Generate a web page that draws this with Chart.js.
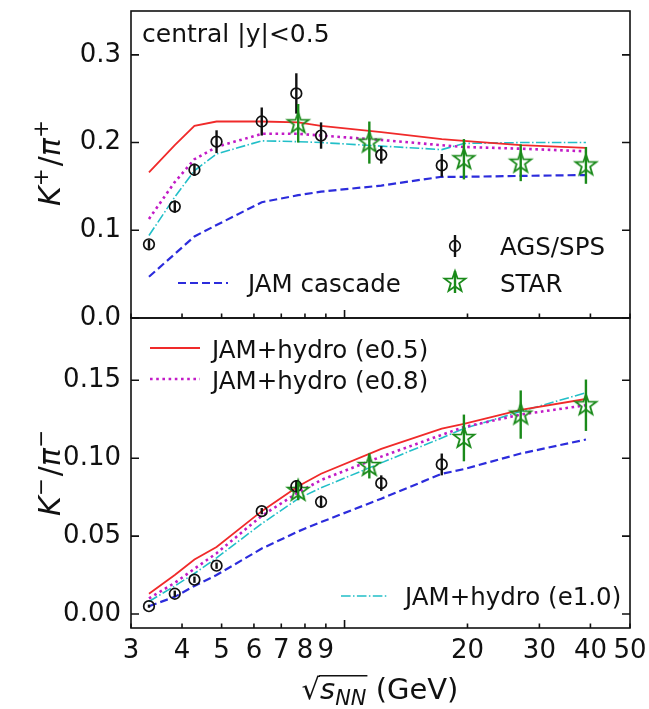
<!DOCTYPE html>
<html>
<head>
<meta charset="utf-8">
<script src="https://cdn.jsdelivr.net/npm/chart.js@4.4.1/dist/chart.umd.min.js"></script>
<style>
  html, body { margin: 0; padding: 0; background: #fff; }
  #wrap { position: relative; width: 649px; height: 709px; }
  #wrap canvas { position: absolute; left: 0; top: 0; }
</style>
</head>
<body>
<div id="wrap">
  <canvas id="kplus" width="649" height="709"></canvas>
  <canvas id="kminus" width="649" height="709"></canvas>
</div>
<script>
// sqrt(s_NN) in GeV
const energyModel = [3.32, 3.84, 4.29, 4.86, 6.27, 7.7, 8.76, 12.3, 17.3, 19.6, 27, 39];
const energyAGS = [3.32, 3.84, 4.29, 4.86, 6.27, 7.62, 8.76, 12.3, 17.3];
const energySTAR = [7.7, 11.5, 19.6, 27, 39];

// K+/pi+
const kPlusE05 = [0.166, 0.197, 0.219, 0.224, 0.224, 0.223, 0.219, 0.212, 0.204, 0.202, 0.197, 0.194];
const kPlusE08 = [0.113, 0.155, 0.181, 0.195, 0.210, 0.210, 0.208, 0.203, 0.197, 0.195, 0.193, 0.190];
const kPlusE10 = [0.094, 0.138, 0.168, 0.187, 0.202, 0.201, 0.200, 0.196, 0.192, 0.199, 0.200, 0.200];
const kPlusCascade = [0.047, 0.073, 0.093, 0.106, 0.132, 0.140, 0.144, 0.151, 0.161, 0.161, 0.162, 0.163];
const kPlusAGS = [0.084, 0.127, 0.169, 0.201, 0.224, 0.256, 0.208, 0.186, 0.174];
const kPlusAGSErr = [0.005, 0.007, 0.007, 0.013, 0.016, 0.023, 0.015, 0.010, 0.013];
const kPlusSTAR = [0.222, 0.200, 0.181, 0.177, 0.174];
const kPlusSTARErr = [0.022, 0.024, 0.023, 0.021, 0.021];

// K-/pi-
const kMinusE05 = [0.013, 0.025, 0.035, 0.043, 0.066, 0.082, 0.090, 0.106, 0.119, 0.122, 0.131, 0.138];
const kMinusE08 = [0.010, 0.020, 0.029, 0.039, 0.063, 0.078, 0.086, 0.101, 0.115, 0.120, 0.128, 0.134];
const kMinusE10 = [0.008, 0.018, 0.026, 0.036, 0.058, 0.074, 0.081, 0.097, 0.113, 0.119, 0.130, 0.142];
const kMinusCascade = [0.005, 0.011, 0.018, 0.025, 0.042, 0.053, 0.059, 0.074, 0.090, 0.093, 0.103, 0.112];
const kMinusAGS = [0.005, 0.013, 0.022, 0.031, 0.066, 0.082, 0.072, 0.084, 0.096];
const kMinusAGSErr = [0.001, 0.002, 0.002, 0.002, 0.002, 0.004, 0.004, 0.005, 0.007];
const kMinusSTAR = [0.079, 0.095, 0.113, 0.128, 0.134];
const kMinusSTARErr = [0.006, 0.008, 0.015, 0.0155, 0.0165];

const xTickValues = [3, 4, 5, 6, 7, 8, 9, 10, 20, 30, 40, 50];
const kPlusTicks = [0, 0.1, 0.2, 0.3];
const kMinusTicks = [0, 0.05, 0.10, 0.15];

const FONT = "'DejaVu Sans', sans-serif";
const INK = '#111111';
const RED = '#f02a2a', MAGENTA = '#c21bc6', CYAN = '#22bfc8', BLUE = '#2c2cdc', GREEN = '#1a8a1a';

Chart.defaults.font.family = FONT;

function pts(xs, ys) {
  return xs.map((x, i) => ({ x, y: ys[i] }));
}

// open five-pointed star used as the STAR marker
function starImage(r, color, lw) {
  const size = Math.ceil(2 * r + lw * 2 + 2);
  const c = document.createElement('canvas');
  c.width = c.height = size;
  const g = c.getContext('2d');
  g.translate(size / 2, size / 2);
  g.beginPath();
  for (let i = 0; i < 10; i++) {
    const a = -Math.PI / 2 + i * Math.PI / 5;
    const rr = i % 2 ? r * 0.4 : r;
    g.lineTo(rr * Math.cos(a), rr * Math.sin(a));
  }
  g.closePath();
  g.strokeStyle = color;
  g.lineWidth = lw;
  g.stroke();
  return c;
}
const starImg = starImage(11, GREEN, 1.8);

function lineSet(label, ys, color, width, dash) {
  return {
    label, data: pts(energyModel, ys), showLine: true, pointRadius: 0,
    borderColor: color, borderWidth: width, borderDash: dash || [], fill: false, tension: 0,
  };
}

function dataSets(ags, agsErr, star, starErr, cascade, e05, e08, e10) {
  return [
    {
      label: 'AGS/SPS', data: pts(energyAGS, ags), errors: agsErr, errorColor: INK,
      pointStyle: 'circle', pointRadius: 5.3, pointBorderWidth: 1.7,
      pointBorderColor: INK, pointBackgroundColor: 'rgba(0,0,0,0)',
    },
    {
      label: 'STAR', data: pts(energySTAR, star), errors: starErr, errorColor: GREEN,
      pointStyle: starImg, pointRadius: 10,
    },
    lineSet('JAM cascade', cascade, BLUE, 2.2, [8, 4]),
    lineSet('JAM+hydro (e0.5)', e05, RED, 1.8),
    lineSet('JAM+hydro (e0.8)', e08, MAGENTA, 2.6, [2.6, 3.6]),
    lineSet('JAM+hydro (e1.0)', e10, CYAN, 1.6, [9.6, 2.4, 1.5, 2.4]),
  ];
}

// vertical error bars, drawn through the chart scales
const errorBars = {
  id: 'errorBars',
  afterDatasetsDraw(chart) {
    const { ctx, scales: { x, y } } = chart;
    chart.data.datasets.forEach((ds) => {
      if (!ds.errors) return;
      ctx.save();
      ctx.strokeStyle = ds.errorColor;
      ctx.lineWidth = 2.4;
      ds.data.forEach((p, i) => {
        const px = x.getPixelForValue(p.x);
        ctx.beginPath();
        ctx.moveTo(px, y.getPixelForValue(p.y - ds.errors[i]));
        ctx.lineTo(px, y.getPixelForValue(p.y + ds.errors[i]));
        ctx.stroke();
      });
      ctx.restore();
    });
  },
};

// box around the panel with inward tick marks
const frame = {
  id: 'frame',
  afterDraw(chart) {
    const { ctx, chartArea: { left, right, top, bottom }, scales: { x, y } } = chart;
    ctx.save();
    ctx.strokeStyle = INK;
    ctx.lineWidth = 1.6;
    ctx.beginPath();
    y.ticks.forEach((t) => {
      const py = y.getPixelForValue(t.value);
      ctx.moveTo(left, py); ctx.lineTo(left + 8, py);
      ctx.moveTo(right, py); ctx.lineTo(right - 8, py);
    });
    x.ticks.forEach((t) => {
      const px = x.getPixelForValue(t.value);
      const len = t.value === 10 ? 8 : 4.5;
      ctx.moveTo(px, bottom); ctx.lineTo(px, bottom - len);
    });
    ctx.stroke();
    ctx.strokeRect(left, top, right - left, bottom - top);
    ctx.restore();
  },
};

function fontFor(p, size) {
  const s = (p.sup || p.sub) ? size * 0.72 : size;
  return `${p.it ? 'italic ' : ''}${s}px ${FONT}`;
}
function richWidth(ctx, parts, size) {
  let w = 0;
  parts.forEach((p) => { ctx.font = fontFor(p, size); w += ctx.measureText(p.t).width; });
  return w;
}
function drawRich(ctx, parts, x, y, size) {
  let cx = x;
  parts.forEach((p) => {
    ctx.font = fontFor(p, size);
    const dy = p.sup ? -size * 0.4 : p.sub ? size * 0.22 : 0;
    ctx.fillText(p.t, cx, y + dy);
    cx += ctx.measureText(p.t).width + (p.pad || 0);
  });
  return cx;
}

function yTitle(ctx, parts, cx, cy) {
  const size = 30;
  ctx.save();
  ctx.fillStyle = INK;
  ctx.textBaseline = 'alphabetic';
  ctx.translate(cx, cy);
  ctx.rotate(-Math.PI / 2);
  const w = richWidth(ctx, parts, size) + parts.reduce((a, p) => a + (p.pad || 0), 0);
  drawRich(ctx, parts, -w / 2, 0, size);
  ctx.restore();
}

function text(ctx, str, x, cy, size) {
  ctx.save();
  ctx.fillStyle = INK;
  ctx.font = `${size}px ${FONT}`;
  ctx.textAlign = 'left';
  ctx.textBaseline = 'alphabetic';
  ctx.fillText(str, x, cy + size * 0.36);
  ctx.restore();
}

function legendLine(ctx, x1, x2, y, color, width, dash) {
  ctx.save();
  ctx.strokeStyle = color;
  ctx.lineWidth = width;
  ctx.setLineDash(dash || []);
  ctx.beginPath();
  ctx.moveTo(x1, y);
  ctx.lineTo(x2, y);
  ctx.stroke();
  ctx.restore();
}

function legendBar(ctx, x, y, color) {
  ctx.save();
  ctx.strokeStyle = color;
  ctx.lineWidth = 2.4;
  ctx.beginPath();
  ctx.moveTo(x, y - 11);
  ctx.lineTo(x, y + 11);
  ctx.stroke();
  ctx.restore();
}

function xTitle(ctx, cx, baseline) {
  const size = 29;
  const inner = [{ t: 's', it: true }, { t: 'NN', it: true, sub: true }];
  ctx.save();
  ctx.fillStyle = INK;
  ctx.strokeStyle = INK;
  ctx.textBaseline = 'alphabetic';
  ctx.font = `${size}px ${FONT}`;
  const rootW = ctx.measureText('\u221A').width;
  const rootAsc = ctx.measureText('\u221A').actualBoundingBoxAscent;
  const innerW = richWidth(ctx, inner, size);
  ctx.font = `${size}px ${FONT}`;
  const tailW = ctx.measureText(' (GeV)').width;
  let x = cx - (rootW + innerW + tailW) / 2;
  ctx.fillText('\u221A', x, baseline);
  x += rootW;
  ctx.lineWidth = 1.4;
  ctx.beginPath();
  ctx.moveTo(x - 1, baseline - rootAsc + 0.7);
  ctx.lineTo(x + innerW + 1, baseline - rootAsc + 0.7);
  ctx.stroke();
  x = drawRich(ctx, inner, x, baseline, size);
  ctx.font = `${size}px ${FONT}`;
  ctx.fillText(' (GeV)', x, baseline);
  ctx.restore();
}

function xScale(showLabels, height) {
  return {
    type: 'logarithmic', min: 3, max: 50,
    grid: { display: false, drawTicks: false },
    border: { display: false },
    ticks: {
      display: showLabels, autoSkip: false, maxRotation: 0, minRotation: 0,
      color: INK, padding: 8, font: { size: 26 },
      callback: (v) => (v === 10 ? '' : String(v)),
    },
    afterBuildTicks: (s) => { s.ticks = xTickValues.map((v) => ({ value: v })); },
    afterFit: (s) => { s.height = height; s.paddingLeft = 0; s.paddingRight = 0; },
  };
}

function yScale(min, max, tickVals, decimals) {
  return {
    min, max,
    grid: { display: false, drawTicks: false },
    border: { display: false },
    ticks: {
      color: INK, padding: 10, font: { size: 26 },
      callback: (v) => Number(v).toFixed(decimals),
    },
    afterBuildTicks: (s) => { s.ticks = tickVals.map((v) => ({ value: v })); },
    afterFit: (s) => { s.width = 131; s.paddingTop = 0; s.paddingBottom = 0; },
  };
}

const common = {
  responsive: false,
  animation: false,
  events: [],
};

new Chart(document.getElementById('kplus'), {
  type: 'scatter',
  data: { datasets: dataSets(kPlusAGS, kPlusAGSErr, kPlusSTAR, kPlusSTARErr, kPlusCascade, kPlusE05, kPlusE08, kPlusE10) },
  options: {
    ...common,
    layout: { padding: { left: 0, right: 19, top: 7, bottom: 391 } },
    plugins: { legend: { display: false }, tooltip: { enabled: false } },
    scales: { x: xScale(false, 0), y: yScale(0, 0.35, kPlusTicks, 1) },
  },
  plugins: [errorBars, frame, {
    id: 'kplusNotes',
    afterDraw(chart) {
      const ctx = chart.ctx;
      ctx.save();
      ctx.fillStyle = INK;
      ctx.font = `25px ${FONT}`;
      ctx.fillText('central |y|<0.5', 142, 42);
      ctx.restore();
      legendLine(ctx, 178, 228, 283, BLUE, 2.2, [8, 4]);
      text(ctx, 'JAM cascade', 248, 283, 24.5);
      legendBar(ctx, 455, 246, INK);
      ctx.save();
      ctx.strokeStyle = INK;
      ctx.lineWidth = 1.7;
      ctx.beginPath();
      ctx.arc(455, 246, 5.3, 0, Math.PI * 2);
      ctx.stroke();
      ctx.restore();
      text(ctx, 'AGS/SPS', 500, 246, 24.5);
      legendBar(ctx, 455, 282, GREEN);
      ctx.drawImage(starImg, 455 - starImg.width / 2, 282 - starImg.height / 2);
      text(ctx, 'STAR', 500, 283, 24.5);
      yTitle(ctx, [{ t: 'K', it: true }, { t: '+', sup: true, pad: 2 }, { t: '/' }, { t: '\u03C0', it: true }, { t: '+', sup: true }], 60, 163);
    },
  }],
});

new Chart(document.getElementById('kminus'), {
  type: 'scatter',
  data: { datasets: dataSets(kMinusAGS, kMinusAGSErr, kMinusSTAR, kMinusSTARErr, kMinusCascade, kMinusE05, kMinusE08, kMinusE10) },
  options: {
    ...common,
    layout: { padding: { left: 0, right: 19, top: 318, bottom: 0 } },
    plugins: { legend: { display: false }, tooltip: { enabled: false } },
    scales: { x: xScale(true, 81), y: yScale(-0.009, 0.19, kMinusTicks, 2) },
  },
  plugins: [errorBars, frame, {
    id: 'kminusNotes',
    afterDraw(chart) {
      const ctx = chart.ctx;
      legendLine(ctx, 150, 200, 348, RED, 1.8);
      text(ctx, 'JAM+hydro (e0.5)', 212, 349, 24.5);
      legendLine(ctx, 150, 200, 379, MAGENTA, 2.6, [2.6, 3.6]);
      text(ctx, 'JAM+hydro (e0.8)', 212, 380, 24.5);
      legendLine(ctx, 341, 387, 596, CYAN, 1.6, [9.6, 2.4, 1.5, 2.4]);
      text(ctx, 'JAM+hydro (e1.0)', 405, 596, 24.5);
      yTitle(ctx, [{ t: 'K', it: true }, { t: '\u2212', sup: true, pad: 2 }, { t: '/' }, { t: '\u03C0', it: true }, { t: '\u2212', sup: true }], 60, 473);
      xTitle(ctx, 380, 699);
    },
  }],
});
</script>
</body>
</html>
